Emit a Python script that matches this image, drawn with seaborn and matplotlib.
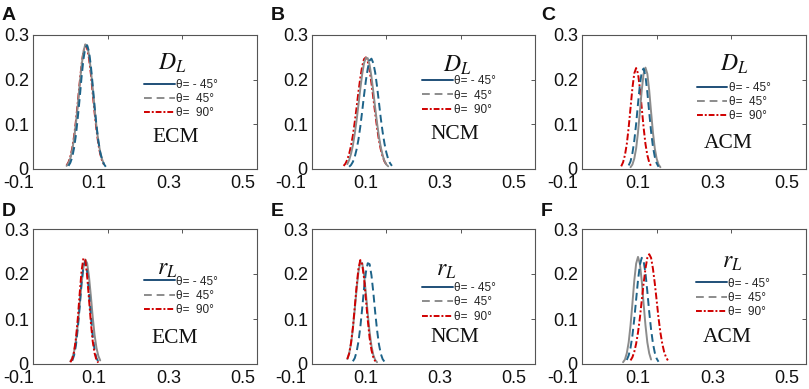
import numpy as np
import matplotlib.pyplot as plt
from matplotlib.lines import Line2D
from matplotlib.transforms import ScaledTranslation
import seaborn as sns

NA = np.nan

# --- data ---------------------------------------------------------------------
# shared sampling grid for every curve
x_grid = [-0.015, -0.010, -0.005, 0.000, 0.005, 0.010, 0.015, 0.020, 0.025, 0.030,
          0.035, 0.040, 0.045, 0.050, 0.055, 0.060, 0.065, 0.070, 0.075, 0.080,
          0.085, 0.090, 0.095, 0.100, 0.105, 0.110, 0.115, 0.120, 0.125, 0.130, 0.135]

# A: D_L, ECM
A_gray = [NA, 0.007, 0.013, 0.024, 0.042, 0.068, 0.102, 0.143, 0.188, 0.230,
          0.262, 0.279, 0.276, 0.256, 0.222, 0.178, 0.135, 0.095, 0.062, 0.038,
          0.022, 0.011, NA, NA, NA, NA, NA, NA, NA, NA, NA]
A_red = [NA, 0.008, 0.015, 0.027, 0.046, 0.073, 0.108, 0.149, 0.193, 0.233,
         0.263, 0.277, 0.270, 0.248, 0.213, 0.169, 0.126, 0.088, 0.056, 0.034,
         0.019, 0.010, NA, NA, NA, NA, NA, NA, NA, NA, NA]
A_blue = [NA, NA, 0.007, 0.014, 0.026, 0.047, 0.076, 0.115, 0.158, 0.205,
          0.245, 0.271, 0.277, 0.263, 0.231, 0.187, 0.140, 0.098, 0.063, 0.038,
          0.021, 0.011, 0.005, NA, NA, NA, NA, NA, NA, NA, NA]

# B: D_L, NCM
B_gray = [NA, NA, 0.011, 0.020, 0.034, 0.053, 0.079, 0.109, 0.144, 0.180,
          0.212, 0.237, 0.249, 0.248, 0.233, 0.206, 0.173, 0.137, 0.103, 0.073,
          0.049, 0.031, 0.018, 0.010, 0.006, NA, NA, NA, NA, NA, NA]
B_red = [0.007, 0.012, 0.021, 0.034, 0.052, 0.075, 0.105, 0.138, 0.173, 0.204,
         0.230, 0.246, 0.250, 0.241, 0.221, 0.192, 0.159, 0.125, 0.093, 0.065,
         0.044, 0.028, 0.017, 0.010, NA, NA, NA, NA, NA, NA, NA]
B_blue = [NA, NA, NA, 0.005, 0.009, 0.016, 0.027, 0.044, 0.066, 0.095,
          0.129, 0.165, 0.198, 0.225, 0.243, 0.247, 0.237, 0.216, 0.185, 0.150,
          0.114, 0.083, 0.057, 0.037, 0.022, 0.013, 0.007, NA, NA, NA, NA]

# C: D_L, ACM
C_gray = [NA, NA, NA, NA, NA, NA, NA, NA, NA, 0.004,
          0.010, 0.023, 0.046, 0.082, 0.128, 0.176, 0.213, 0.227, 0.213, 0.176,
          0.128, 0.082, 0.046, 0.023, 0.010, 0.004, NA, NA, NA, NA, NA]
C_red = [NA, NA, NA, NA, 0.006, 0.015, 0.031, 0.056, 0.093, 0.137,
         0.181, 0.214, 0.226, 0.214, 0.181, 0.137, 0.093, 0.056, 0.031, 0.015,
         0.006, NA, NA, NA, NA, NA, NA, NA, NA, NA, NA]
C_blue = [NA, NA, NA, NA, NA, NA, NA, NA, 0.008, 0.017,
          0.035, 0.063, 0.101, 0.146, 0.188, 0.217, 0.225, 0.208, 0.172, 0.127,
          0.084, 0.050, 0.027, 0.013, 0.005, NA, NA, NA, NA, NA, NA]

# D: r_L, ECM
D_gray = [NA, NA, NA, 0.006, 0.013, 0.027, 0.052, 0.087, 0.131, 0.178,
          0.214, 0.232, 0.224, 0.194, 0.151, 0.104, 0.064, 0.036, 0.018, 0.008,
          NA, NA, NA, NA, NA, NA, NA, NA, NA, NA, NA]
D_red = [NA, NA, NA, 0.004, 0.011, 0.027, 0.057, 0.101, 0.156, 0.206,
         0.235, 0.232, 0.196, 0.144, 0.092, 0.050, 0.024, 0.009, 0.003, NA,
         NA, NA, NA, NA, NA, NA, NA, NA, NA, NA, NA]
D_blue = [NA, NA, NA, NA, 0.007, 0.019, 0.041, 0.079, 0.127, 0.180,
          0.217, 0.227, 0.205, 0.159, 0.107, 0.061, 0.031, 0.013, 0.005, NA,
          NA, NA, NA, NA, NA, NA, NA, NA, NA, NA, NA]

# E: r_L, NCM
E_gray = [NA, NA, 0.011, 0.024, 0.045, 0.078, 0.121, 0.166, 0.205, 0.227,
          0.224, 0.199, 0.157, 0.112, 0.071, 0.040, 0.020, 0.009, 0.004, NA,
          NA, NA, NA, NA, NA, NA, NA, NA, NA, NA, NA]
E_red = [NA, NA, 0.011, 0.023, 0.047, 0.081, 0.126, 0.173, 0.212, 0.231,
         0.222, 0.191, 0.144, 0.098, 0.058, 0.031, 0.015, 0.006, NA, NA,
         NA, NA, NA, NA, NA, NA, NA, NA, NA, NA, NA]
E_blue = [NA, NA, NA, NA, NA, 0.006, 0.013, 0.027, 0.050, 0.082,
          0.123, 0.168, 0.204, 0.224, 0.222, 0.197, 0.159, 0.115, 0.076, 0.044,
          0.023, 0.011, 0.005, NA, NA, NA, NA, NA, NA, NA, NA]

# F: r_L, ACM
F_gray = [NA, NA, NA, NA, NA, 0.004, 0.010, 0.024, 0.048, 0.086,
          0.134, 0.185, 0.223, 0.238, 0.223, 0.185, 0.134, 0.086, 0.048, 0.024,
          0.010, NA, NA, NA, NA, NA, NA, NA, NA, NA, NA]
F_red = [NA, NA, NA, NA, NA, NA, NA, NA, NA, 0.008,
         0.015, 0.027, 0.045, 0.070, 0.102, 0.141, 0.179, 0.212, 0.236, 0.244,
         0.236, 0.212, 0.179, 0.141, 0.102, 0.070, 0.045, 0.027, 0.015, 0.008, NA]
F_blue = [NA, NA, NA, NA, NA, NA, NA, 0.009, 0.019, 0.036,
          0.063, 0.100, 0.143, 0.186, 0.220, 0.236, 0.229, 0.202, 0.161, 0.116,
          0.077, 0.046, 0.025, 0.012, 0.005, NA, NA, NA, NA, NA, NA]

panel_letters = ['A', 'B', 'C', 'D', 'E', 'F']
panel_vars = [r'$D_L$', r'$D_L$', r'$D_L$', r'$r_L$', r'$r_L$', r'$r_L$']
panel_models = ['ECM', 'NCM', 'ACM', 'ECM', 'NCM', 'ACM']
legend_labels = ['θ= - 45°', 'θ=  45°', 'θ=  90°']
x_ticks = [-0.1, 0.1, 0.3, 0.5]
x_tick_labels = ['-0.1', '0.1', '0.3', '0.5']
y_ticks = [0, 0.1, 0.2, 0.3]
y_tick_labels = ['0', '0.1', '0.2', '0.3']

curves = {
    'A': {'gray': A_gray, 'red': A_red, 'blue': A_blue},
    'B': {'gray': B_gray, 'red': B_red, 'blue': B_blue},
    'C': {'gray': C_gray, 'red': C_red, 'blue': C_blue},
    'D': {'gray': D_gray, 'red': D_red, 'blue': D_blue},
    'E': {'gray': E_gray, 'red': E_red, 'blue': E_blue},
    'F': {'gray': F_gray, 'red': F_red, 'blue': F_blue},
}

# --- styling ------------------------------------------------------------------
sns.set_theme(style='white')
plt.rcParams['font.family'] = ['Liberation Sans', 'DejaVu Sans']
plt.rcParams['mathtext.fontset'] = 'stix'

line_style = {
    'gray': dict(color='#8c8c8c', linestyle='-'),
    'blue': dict(color='#1d6389', linestyle=(0, (4, 2.2))),
    'red': dict(color='#d00000', linestyle=(0, (3.5, 1.2, 1, 1.2))),
}
draw_order = {0: ['red', 'gray', 'blue'], 1: ['gray', 'blue', 'red']}
legend_handles = [
    Line2D([], [], color='#1f4f78', lw=1.4, ls='-'),
    Line2D([], [], color='#8c8c8c', lw=1.4, ls=(0, (4, 2.5))),
    Line2D([], [], color='#d00000', lw=1.4, ls=(0, (3, 1, 1, 1))),
]

# axes boxes in pixels: left, width / top, bottom
col_left = [33, 312, 582]
col_width = [224, 223, 224]
row_top = [35, 229]
row_bottom = [169, 364]
W, H = 809, 389
# x tick labels in the original sit left of their ticks
xlabel_shift = [-14, -21, -19]

# per-panel text placement (axes fraction)
var_pos = [(0.62, 0.785), (0.65, 0.776), (0.68, 0.78),
           (0.60, 0.705), (0.60, 0.700), (0.67, 0.755)]
legend_pos = [(0.495, 0.674), (0.493, 0.70), (0.512, 0.652),
              (0.495, 0.655), (0.495, 0.608), (0.51, 0.64)]
model_pos = [(0.635, 0.237), (0.64, 0.254), (0.653, 0.19),
             (0.634, 0.19), (0.64, 0.20), (0.65, 0.20)]
letter_px = [(2, 7), (271, 7), (541, 7), (2, 203), (271, 203), (541, 203)]

fig = plt.figure(figsize=(W / 100, H / 100), dpi=100)

for i, letter in enumerate(panel_letters):
    r, c = divmod(i, 3)
    ax = fig.add_axes([col_left[c] / W, 1 - row_bottom[r] / H,
                       col_width[c] / W, (row_bottom[r] - row_top[r]) / H])
    for key in draw_order[r]:
        sns.lineplot(x=x_grid, y=curves[letter][key], ax=ax, estimator=None,
                     lw=1.4, **line_style[key])

    ax.set_xlim(-0.1, 0.5)
    ax.set_ylim(0, 0.3)
    ax.set_xticks(x_ticks)
    ax.set_xticklabels(x_tick_labels)
    ax.set_yticks(y_ticks)
    ax.set_yticklabels(y_tick_labels)
    ax.set_xlabel('')
    ax.set_ylabel('')
    ax.tick_params(direction='in', length=3, width=0.7, top=True, right=True,
                   labelsize=13, pad=3, color='#555555', labelcolor='#111111')
    ax.tick_params(axis='x', pad=4)
    for sp in ax.spines.values():
        sp.set_color('#555555')
        sp.set_linewidth(0.8)
    shift = ScaledTranslation(xlabel_shift[c] / 100, 0, fig.dpi_scale_trans)
    for lab in ax.get_xticklabels():
        lab.set_transform(lab.get_transform() + shift)

    ax.legend(legend_handles, legend_labels, loc='upper left',
              bbox_to_anchor=legend_pos[i], frameon=False, fontsize=8.5,
              handlelength=2.6, handletextpad=0.1, labelspacing=0.2,
              borderpad=0, borderaxespad=0)
    ax.text(*var_pos[i], panel_vars[i], transform=ax.transAxes,
            ha='center', va='center', fontsize=17, color='#111111')
    ax.text(*model_pos[i], panel_models[i], transform=ax.transAxes,
            ha='center', va='center', fontsize=15.5, family='Liberation Serif',
            color='#111111')

    lx, ly = letter_px[i]
    fig.text(lx / W, 1 - ly / H, letter, ha='left', va='top',
             fontsize=14, fontweight='bold', color='#111111')

fig.savefig('out.png', dpi=100)
